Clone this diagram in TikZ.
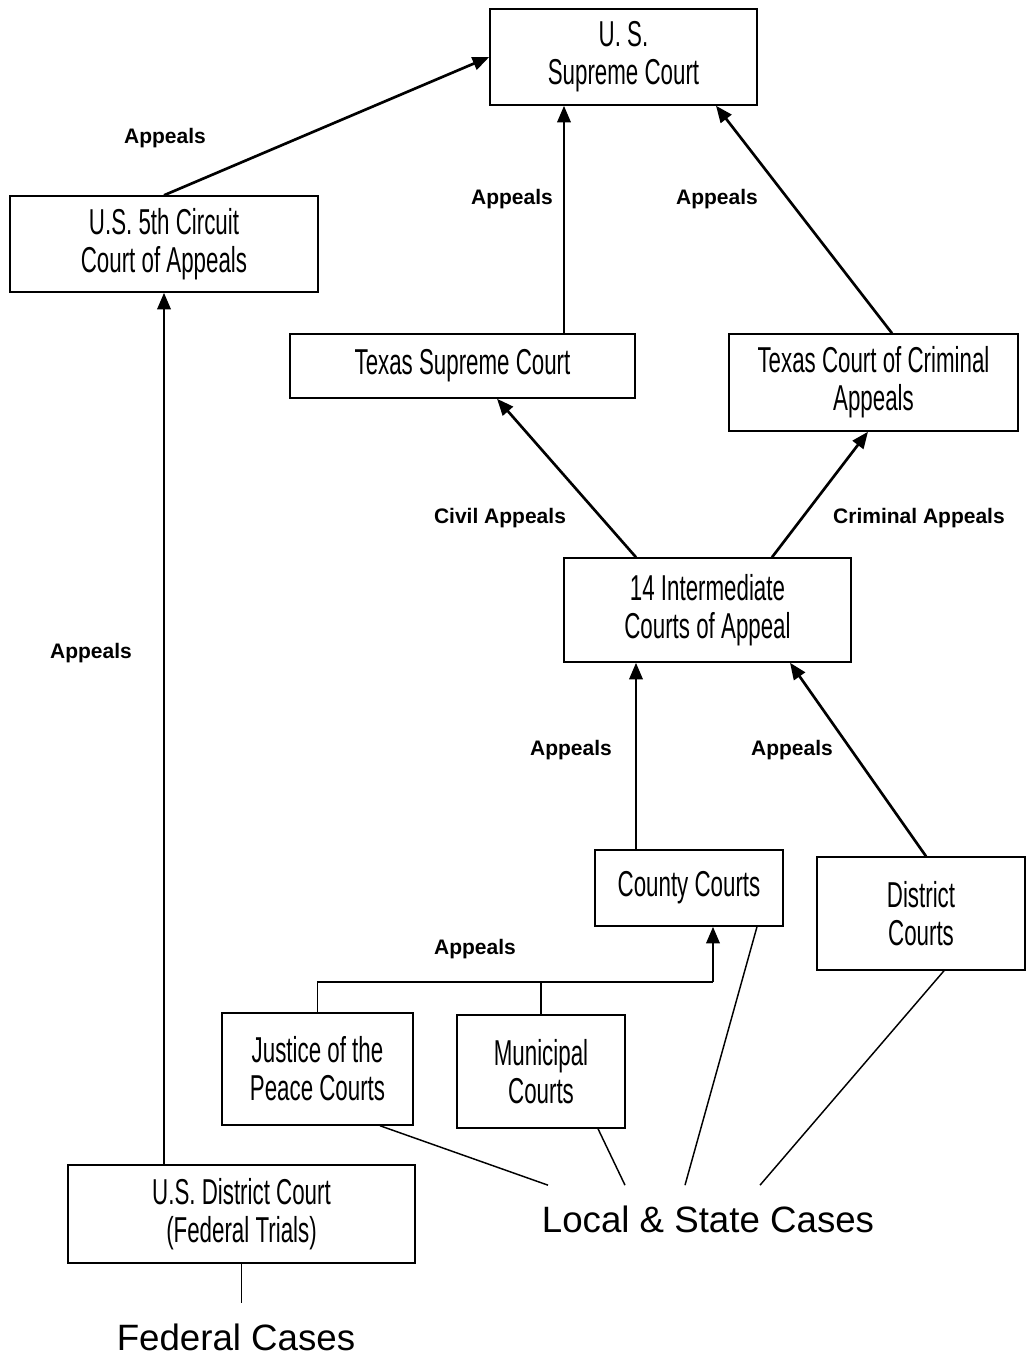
\documentclass[tikz,border=0pt]{standalone}
\usepackage{fontspec}
\setmainfont{Liberation Sans}
\newfontfamily\courtfont[FakeStretch=0.62]{Liberation Sans}
\usetikzlibrary{arrows.meta}

\tikzset{
  court/.style={draw, line width=1.1pt, inner sep=0pt, align=center,
    font=\courtfont\fontsize{27}{28.5}\selectfont},
  appeal/.style={line width=2pt, -{Triangle[length=12.5pt,width=10pt]}},
  feed/.style={line width=1.1pt},
  lbl/.style={font=\bfseries\fontsize{15.75}{18}\selectfont},
  cases/.style={inner sep=15pt, font=\fontsize{27.5}{30}\selectfont}
}

\begin{document}
\begin{tikzpicture}[x=0.75pt,y=-0.75pt]
  \useasboundingbox (0,0) rectangle (1026,1357);
  % federal courts
  \node[court, minimum width=200.25pt, minimum height=72pt] (ussc) at (623.5,57) {U. S.\\Supreme Court};
  \node[court, minimum width=231pt, minimum height=72pt] (circ) at (164,244) {U.S. 5th Circuit\\Court of Appeals};
  \node[court, minimum width=260.25pt, minimum height=73.5pt] (usdc) at (241.5,1214) {U.S. District Court\\(Federal Trials)};
  % texas courts
  \node[court, minimum width=258.75pt, minimum height=48pt] (txsc) at (462.5,366) {Texas Supreme Court};
  \node[court, minimum width=216.75pt, minimum height=72.75pt] (tcca) at (873.5,382.5) {Texas Court of Criminal\\Appeals};
  \node[court, minimum width=215.25pt, minimum height=78pt] (inter) at (707.5,610) {14 Intermediate\\Courts of Appeal};
  \node[court, minimum width=141pt, minimum height=57pt] (county) at (689,888) {County Courts};
  \node[court, minimum width=156pt, minimum height=84.75pt] (dist) at (921,913.5) {District\\Courts};
  \node[court, minimum width=143.25pt, minimum height=84pt] (jp) at (317.5,1069) {Justice of the\\Peace Courts};
  \node[court, minimum width=126pt, minimum height=84.75pt] (muni) at (541,1071.5) {Municipal\\Courts};
  % cases
  \node[cases, anchor=base] (fed) at (236,1350) {Federal Cases};
  \node[cases, anchor=base] (local) at (708,1232) {Local \& State Cases};
  % labels
  \node[lbl] (lab1) at (165,138) {Appeals};
  \node[lbl] (lab2) at (512,199) {Appeals};
  \node[lbl] (lab3) at (717,199) {Appeals};
  \node[lbl] (lab4) at (91,653) {Appeals};
  \node[lbl] (lab5) at (500,518) {Civil Appeals};
  \node[lbl] (lab6) at (919,518) {Criminal Appeals};
  \node[lbl] (lab7) at (571,750) {Appeals};
  \node[lbl] (lab8) at (792,750) {Appeals};
  \node[lbl] (lab9) at (475,949) {Appeals};
  % appeals
  \draw[appeal] (circ.north) -- (ussc.west);
  \draw[appeal] (usdc.north -| circ.south) -- (circ.south);
  \draw[appeal] (txsc.north -| 564,0) -- (ussc.south -| 564,0);
  \draw[appeal] (tcca.north -| 892,0) -- (ussc.south -| 716,0);
  \draw[appeal] (inter.north -| 636,0) -- (txsc.south -| 497,0);
  \draw[appeal] (inter.north -| 772,0) -- (tcca.south -| 868,0);
  \draw[appeal] (county.north -| 636,0) -- (inter.south -| 636,0);
  \draw[appeal] (dist.north -| 926,0) -- (inter.south -| 790,0);
  \coordinate (join) at (713,982);
  \draw[feed] (jp.north) |- (join);
  \draw[feed] (muni.north) -- (muni.north |- join);
  \draw[appeal] (join) -- (county.south -| join);
  % cases
  \draw[feed] (usdc.south) -- (usdc.south |- fed.north);
  \draw[feed] (jp.south -| 380,0) -- (local.north -| 548,0);
  \draw[feed] (muni.south -| 598,0) -- (local.north -| 625,0);
  \draw[feed] (county.south -| 757,0) -- (local.north -| 685,0);
  \draw[feed] (dist.south -| 944,0) -- (local.north -| 760,0);
\end{tikzpicture}
\end{document}
